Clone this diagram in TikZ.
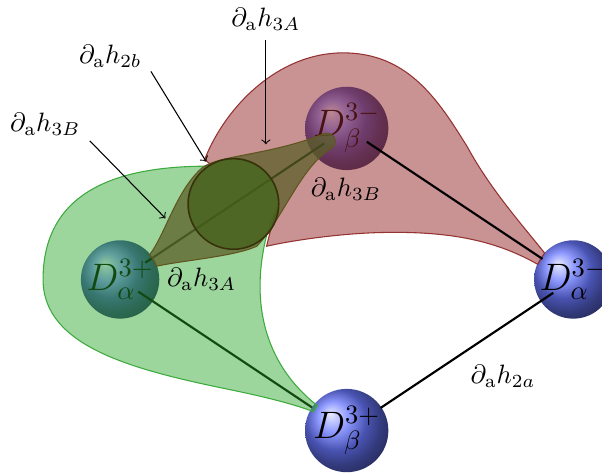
\documentclass[tikz,border=0pt]{standalone}
\usepackage{amsmath}
\usepackage{tikz}

\definecolor{sphereblue}{RGB}{105,120,255}
\definecolor{greenfill}{RGB}{38,164,38}
\definecolor{greenline}{RGB}{60,170,60}
\definecolor{redfill}{RGB}{147,39,39}
\definecolor{redline}{RGB}{150,50,50}
\definecolor{lensfill}{RGB}{90,95,40}
\definecolor{lensline}{RGB}{95,85,30}
\definecolor{discfill}{RGB}{65,92,20}
\definecolor{discline}{RGB}{55,50,10}

\begin{document}
\begin{tikzpicture}
  \tikzstyle{sphere}=[circle,ball color=sphereblue,minimum size=1.02cm,inner sep=0pt,font=\fontsize{14}{16}\selectfont]
  \tikzstyle{bond}=[thick,black]
  \tikzstyle{pointer}=[->,thin,black]
  \tikzstyle{greenregion}=[fill=greenfill,fill opacity=0.45,draw=greenline,thin]
  \tikzstyle{redregion}=[fill=redfill,fill opacity=0.5,draw=redline,thin]
  \tikzstyle{lens}=[fill=lensfill,fill opacity=0.75,draw=lensline,thin]
  \tikzstyle{disc}=[fill=discfill,fill opacity=0.65,draw=discline,semithick]
  \useasboundingbox (-1.59,-2.57) rectangle (6.38,3.70);

  % spheres
  \node[sphere] (D_a3p) at (0,0)  {$D^{3+}_{\alpha}$};
  \node[sphere] (D_b3m) at (3,2)  {$D^{3-}_{\beta}$};
  \node[sphere] (D_b3p) at (3,-2) {$D^{3+}_{\beta}$};
  \node[sphere] (D_a3m) at (6,0)  {$D^{3-}_{\alpha}$};

  % red region
  \filldraw[redregion] (1.12,1.59) .. controls (1.4,2.3) and (2.1,3.0) .. (2.95,3.0)
    .. controls (3.8,3.0) and (4.2,2.4) .. (4.6,1.75)
    .. controls (4.9,1.2) and (5.3,0.75) .. (5.62,0.35)
    -- (5.53,0.2)
    .. controls (5.0,0.5) and (4.4,0.65) .. (3.4,0.62)
    .. controls (2.8,0.6) and (2.2,0.5) .. (1.94,0.44)
    .. controls (2.0,0.7) and (2.05,0.85) .. (2.1,1.0)
    arc[start angle=0,end angle=120,radius=0.6] -- cycle;

  \draw[bond,shorten <=0.4cm,shorten >=0.36cm] (D_a3p.center) -- (D_b3m.center);
  \draw[bond,shorten <=0.29cm,shorten >=0.55cm] (D_a3p.center) -- (D_b3p.center);
  \draw[bond,shorten <=0.54cm,shorten >=0.32cm] (D_b3p.center) -- (D_a3m.center);
  \draw[bond,shorten <=0.32cm,shorten >=0.49cm] (D_b3m.center) -- (D_a3m.center);

  % green region, lens and disc
  \filldraw[greenregion] (1.17,1.50) .. controls (0.2,1.5) and (-1.02,1.3) .. (-1.02,0.0)
    .. controls (-1.02,-0.9) and (0.2,-1.2) .. (1.46,-1.46)
    .. controls (1.9,-1.55) and (2.3,-1.65) .. (2.56,-1.75)
    -- (2.61,-1.67)
    .. controls (1.95,-1.15) and (1.75,-0.4) .. (1.9,0.4)
    .. controls (1.95,0.7) and (2.05,0.85) .. (2.1,1.0)
    arc[start angle=0,end angle=123,radius=0.6] -- cycle;
  \filldraw[lens] (0.391,0.328) .. controls (0.6,0.6) and (0.75,1.2) .. (1.10,1.49)
    .. controls (1.35,1.65) and (2.0,1.65) .. (2.70,1.93)
    arc[start angle=110,end angle=-60,radius=0.11]
    .. controls (2.4,1.5) and (2.15,0.8) .. (1.81,0.44)
    .. controls (1.5,0.3) and (0.8,0.25) .. (0.479,0.174)
    arc[start angle=20,end angle=40,radius=0.51] -- cycle;
  \filldraw[disc] (1.5,1) circle (0.6);

  % labels
  \node (h3A_top) at (1.93,3.44) {$\partial_{\mathrm{a}}h_{3A}$};
  \node (h2b) at (-0.13,2.95) {$\partial_{\mathrm{a}}h_{2b}$};
  \node (h3B_left) at (-0.99,2.05) {$\partial_{\mathrm{a}}h_{3B}$};
  \node (h3B) at (2.99,1.20) {$\partial_{\mathrm{a}}h_{3B}$};
  \node (h3A) at (1.08,0.0) {$\partial_{\mathrm{a}}h_{3A}$};
  \node (h2a) at (5.07,-1.28) {$\partial_{\mathrm{a}}h_{2a}$};

  \coordinate (p_h3A) at (1.93,1.79);
  \coordinate (p_h2b) at (1.14,1.56);
  \coordinate (p_h3B) at (0.60,0.81);
  \draw[pointer] (h3A_top) -- (p_h3A);
  \draw[pointer] (h2b.-20) -- (p_h2b);
  \draw[pointer] (h3B_left.-20) -- (p_h3B);
\end{tikzpicture}
\end{document}
